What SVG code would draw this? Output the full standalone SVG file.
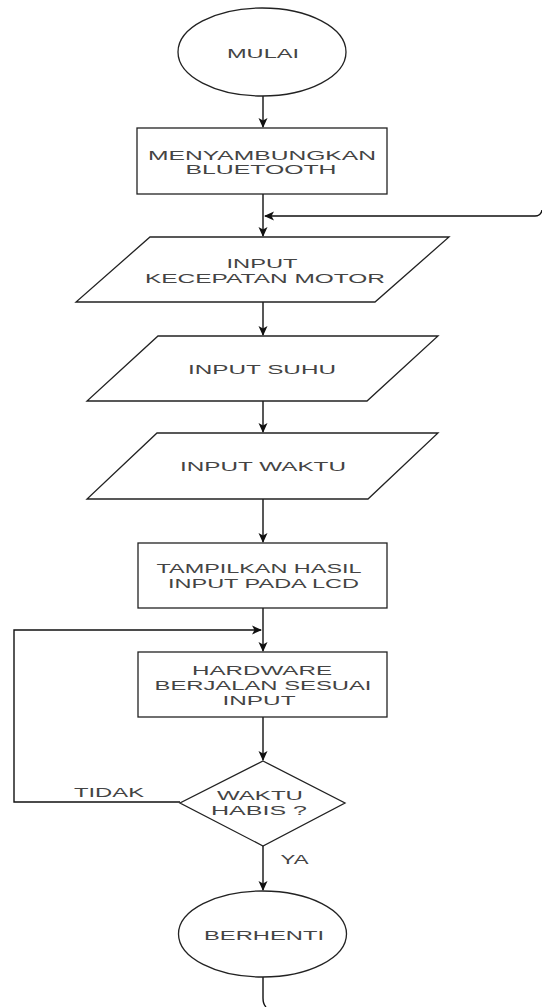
<svg xmlns="http://www.w3.org/2000/svg" width="542" height="1007" viewBox="0 0 542 1007">
<style>
.shape{fill:#fff;stroke:#222;stroke-width:1.3}
.conn{fill:none;stroke:#111;stroke-width:1.4}
text{font-family:"Liberation Sans",Arial,sans-serif;font-size:13px;fill:#444;text-anchor:middle}
</style>
<defs>
<marker id="arr" viewBox="0 0 10 10" refX="9" refY="5" markerWidth="10" markerHeight="10" markerUnits="userSpaceOnUse" orient="auto">
<path d="M0,0.5 L10,5 L0,9.5 L2.5,5 z" fill="#111"/>
</marker>
</defs>
<g id="connectors">
<path class="conn" d="M263,96 V127" marker-end="url(#arr)"/>
<path class="conn" d="M263,194 V236" marker-end="url(#arr)"/>
<path class="conn" d="M542,210 Q541,216 535,216 H265" marker-end="url(#arr)"/>
<path class="conn" d="M263,302 V335" marker-end="url(#arr)"/>
<path class="conn" d="M263,401 V432" marker-end="url(#arr)"/>
<path class="conn" d="M263,499 V542" marker-end="url(#arr)"/>
<path class="conn" d="M263,608 V651" marker-end="url(#arr)"/>
<path class="conn" d="M180,802 H14 V630 H261" marker-end="url(#arr)"/>
<path class="conn" d="M263,717 V760" marker-end="url(#arr)"/>
<path class="conn" d="M263,846 V890" marker-end="url(#arr)"/>
<path class="conn" d="M263,977 V998 Q263,1004 266,1007"/>
<text x="109" y="797" textLength="70" lengthAdjust="spacingAndGlyphs">TIDAK</text>
<text x="294.6" y="864" textLength="28" lengthAdjust="spacingAndGlyphs">YA</text>
</g>
<g id="mulai">
<ellipse class="shape" cx="262" cy="52" rx="84" ry="44"/>
<text x="263" y="58" textLength="72" lengthAdjust="spacingAndGlyphs">MULAI</text>
</g>
<g id="bluetooth">
<rect class="shape" x="137" y="128" width="250" height="66"/>
<text x="262" y="160" textLength="228" lengthAdjust="spacingAndGlyphs">MENYAMBUNGKAN</text>
<text x="261" y="174" textLength="151" lengthAdjust="spacingAndGlyphs">BLUETOOTH</text>
</g>
<g id="input-kecepatan">
<polygon class="shape" points="150,237 449,237 375,302 76,302"/>
<text x="262" y="268" textLength="71" lengthAdjust="spacingAndGlyphs">INPUT</text>
<text x="265" y="283" textLength="240" lengthAdjust="spacingAndGlyphs">KECEPATAN MOTOR</text>
</g>
<g id="input-suhu">
<polygon class="shape" points="158,336 438,336 367,401 87,401"/>
<text x="262" y="374" textLength="148" lengthAdjust="spacingAndGlyphs">INPUT SUHU</text>
</g>
<g id="input-waktu">
<polygon class="shape" points="157,433 438,433 368,499 87,499"/>
<text x="263" y="471" textLength="166" lengthAdjust="spacingAndGlyphs">INPUT WAKTU</text>
</g>
<g id="tampilkan">
<rect class="shape" x="138" y="543" width="249" height="65"/>
<text x="259" y="573" textLength="205" lengthAdjust="spacingAndGlyphs">TAMPILKAN HASIL</text>
<text x="263.5" y="588" textLength="191" lengthAdjust="spacingAndGlyphs">INPUT PADA LCD</text>
</g>
<g id="hardware">
<rect class="shape" x="138" y="652" width="249" height="65"/>
<text x="262" y="675" textLength="140" lengthAdjust="spacingAndGlyphs">HARDWARE</text>
<text x="263" y="690" textLength="217" lengthAdjust="spacingAndGlyphs">BERJALAN SESUAI</text>
<text x="259" y="705" textLength="73" lengthAdjust="spacingAndGlyphs">INPUT</text>
</g>
<g id="waktu-habis">
<polygon class="shape" points="263,761 345,803 263,846 180,803"/>
<text x="260" y="800" textLength="86" lengthAdjust="spacingAndGlyphs">WAKTU</text>
<text x="259" y="815" textLength="96" lengthAdjust="spacingAndGlyphs">HABIS ?</text>
</g>
<g id="berhenti">
<ellipse class="shape" cx="262.5" cy="934" rx="84" ry="43"/>
<text x="264" y="940" textLength="120" lengthAdjust="spacingAndGlyphs">BERHENTI</text>
</g>
</svg>
